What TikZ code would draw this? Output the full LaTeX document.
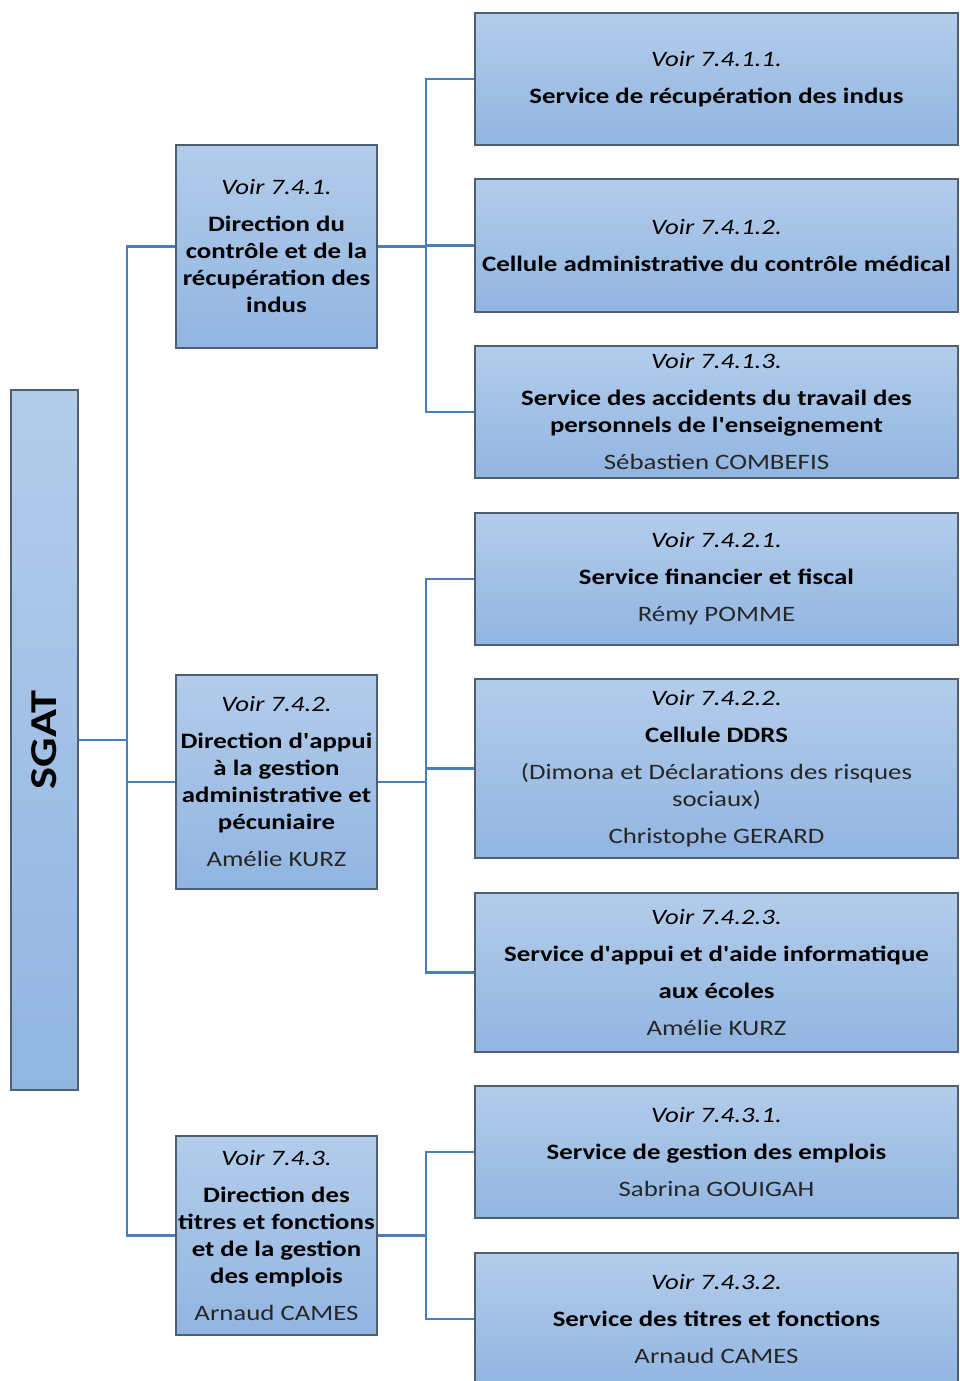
\documentclass[tikz,border=0pt]{standalone}
\usepackage{fontspec}
\setmainfont{Carlito}[FakeStretch=1.22]
\newfontfamily\aposfont{Carlito}[FakeStretch=1.22]
\newcommand{\ap}{{\aposfont'}}
\definecolor{boxtop}{HTML}{B3CCEA}
\definecolor{boxbot}{HTML}{91B5E1}
\definecolor{bordercol}{HTML}{4F5F72}
\definecolor{linecol}{HTML}{4A7EBB}
\definecolor{namecol}{HTML}{262626}
\tikzset{
  box/.style={draw=bordercol, line width=1.1pt, top color=boxtop, bottom color=boxbot,
    align=center, inner sep=0pt, font=\fontsize{22}{27}\selectfont},
  lbox/.style={box, minimum width=201pt},
  rbox/.style={box, minimum width=483pt},
  conn/.style={draw=linecol, line width=2.2pt},
}
\newcommand{\voir}[1]{\textit{#1}}
\newcommand{\nm}[1]{\textcolor{namecol}{#1}}
\begin{document}
\begin{tikzpicture}[x=1pt,y=-1pt]
\useasboundingbox (0,0) rectangle (959,1381);
% level 1
\node[box, minimum width=67pt, minimum height=700pt] (sgat) at (44.5,740) {};
\node[rotate=90, font=\bfseries\fontsize{38}{40}\selectfont] (sgatlbl) at (sgat.center) {SGAT};
% level 2
\node[lbox, minimum height=203pt] (A) at (276.5,246.5) {\voir{Voir 7.4.1.}\\[10pt]\textbf{Direction du}\\\textbf{contrôle et de la}\\\textbf{récupération des}\\\textbf{indus}};
\node[lbox, minimum height=214pt] (B) at (276.5,782) {\voir{Voir 7.4.2.}\\[10pt]\textbf{Direction d\ap appui}\\\textbf{à la gestion}\\\textbf{administrative et}\\\textbf{pécuniaire}\\[10pt]\nm{Amélie KURZ}};
\node[lbox, minimum height=199pt] (C) at (276.5,1235.5) {\voir{Voir 7.4.3.}\\[10pt]\textbf{Direction des}\\\textbf{titres et fonctions}\\\textbf{et de la gestion}\\\textbf{des emplois}\\[10pt]\nm{Arnaud CAMES}};
% level 3
\node[rbox, minimum height=132pt] (s1) at (716.5,79) {\voir{Voir 7.4.1.1.}\\[10pt]\textbf{Service de récupération des indus}};
\node[rbox, minimum height=133pt] (s2) at (716.5,245.5) {\voir{Voir 7.4.1.2.}\\[10pt]\textbf{Cellule administrative du contrôle médical}};
\node[rbox, minimum height=132pt] (s3) at (716.5,412) {\voir{Voir 7.4.1.3.}\\[10pt]\textbf{Service des accidents du travail des}\\\textbf{personnels de l\ap enseignement}\\[10pt]\nm{Sébastien COMBEFIS}};
\node[rbox, minimum height=132pt] (s4) at (716.5,579) {\voir{Voir 7.4.2.1.}\\[10pt]\textbf{Service financier et fiscal}\\[10pt]\nm{Rémy POMME}};
\node[rbox, minimum height=179pt] (s5) at (716.5,768.5) {\voir{Voir 7.4.2.2.}\\[10pt]\textbf{Cellule DDRS}\\[10pt]\nm{(Dimona et Déclarations des risques}\\\nm{sociaux)}\\[10pt]\nm{Christophe GERARD}};
\node[rbox, minimum height=159pt] (s6) at (716.5,972.5) {\voir{Voir 7.4.2.3.}\\[10pt]\textbf{Service d\ap appui et d\ap aide informatique}\\[10pt]\textbf{aux écoles}\\[10pt]\nm{Amélie KURZ}};
\node[rbox, minimum height=132pt] (s7) at (716.5,1152) {\voir{Voir 7.4.3.1.}\\[10pt]\textbf{Service de gestion des emplois}\\[10pt]\nm{Sabrina GOUIGAH}};
\node[rbox, minimum height=132pt] (s8) at (716.5,1319) {\voir{Voir 7.4.3.2.}\\[10pt]\textbf{Service des titres et fonctions}\\[10pt]\nm{Arnaud CAMES}};
% trunks
\coordinate (tk) at (127,0);
\coordinate (ta) at (426,0);
\draw[conn] (sgat.east) -- (sgat.east -| tk);
\draw[conn] (A.west) -- (A.west -| tk) -- (C.west -| tk) -- (C.west);
\draw[conn] (B.west) -- (B.west -| tk);
% A group
\draw[conn] (A.east) -- (A.east -| ta);
\draw[conn] (s1.west) -- (s1.west -| ta) -- (s3.west -| ta) -- (s3.west);
\draw[conn] (s2.west) -- (s2.west -| ta);
% B group
\draw[conn] (B.east) -- (B.east -| ta);
\draw[conn] (s4.west) -- (s4.west -| ta) -- (s6.west -| ta) -- (s6.west);
\draw[conn] (s5.west) -- (s5.west -| ta);
% C group
\draw[conn] (C.east) -- (C.east -| ta);
\draw[conn] (s7.west) -- (s7.west -| ta) -- (s8.west -| ta) -- (s8.west);
\end{tikzpicture}
\end{document}
